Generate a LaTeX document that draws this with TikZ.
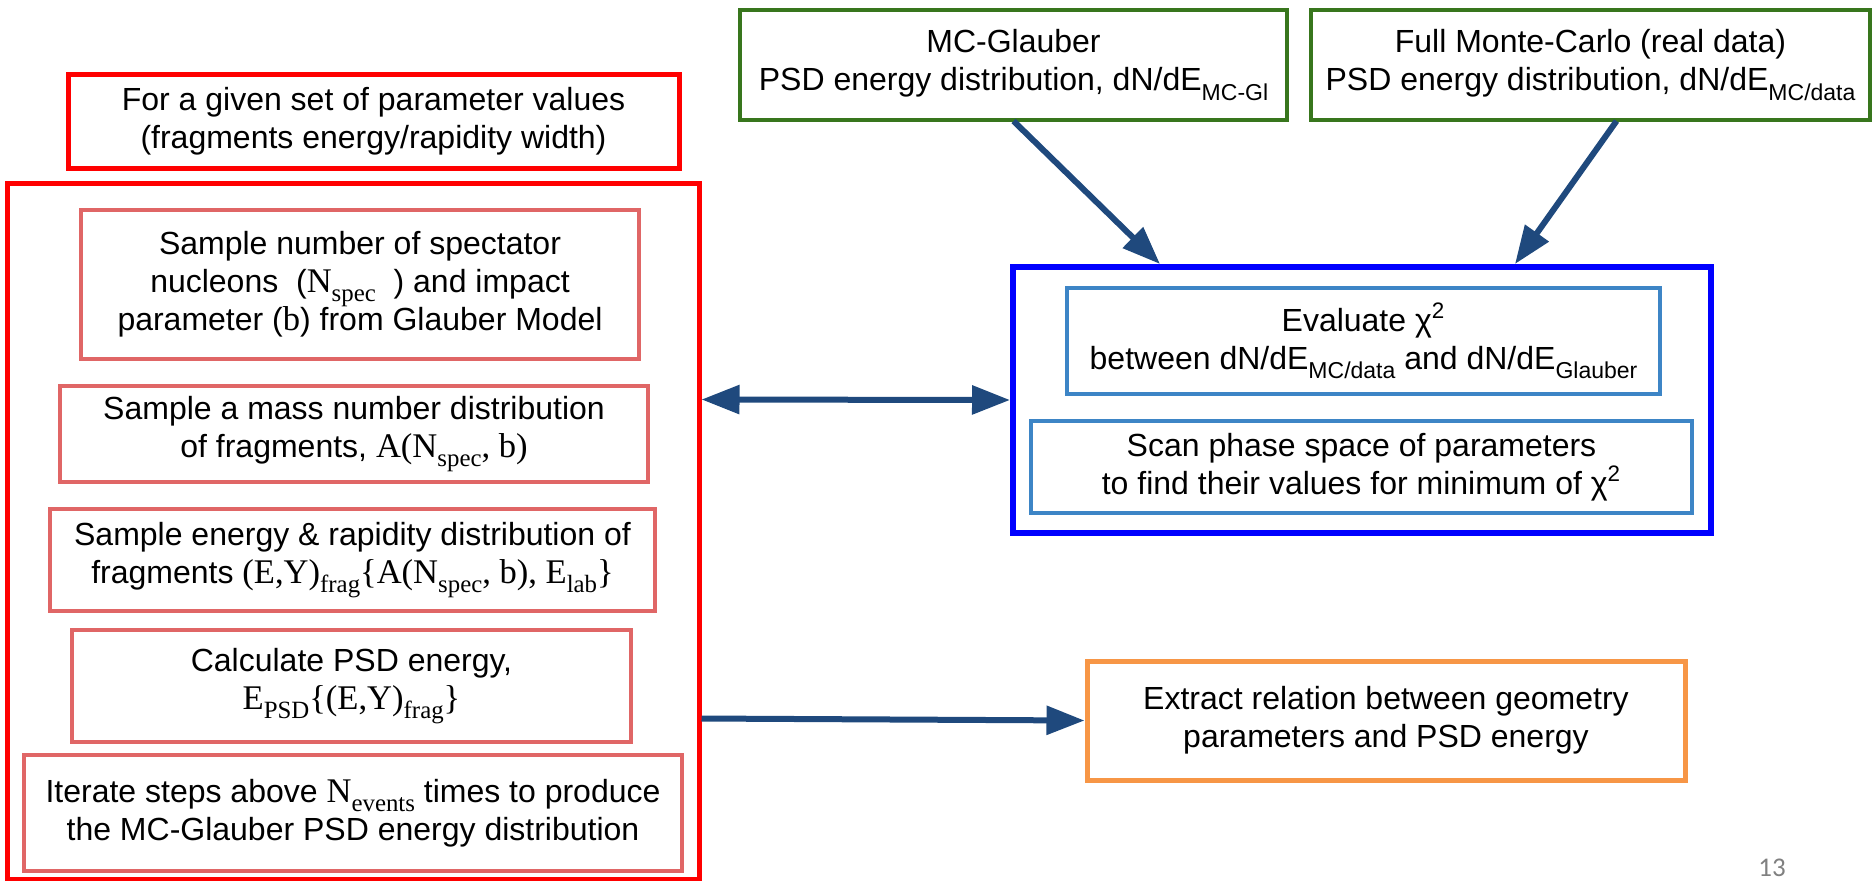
\documentclass[tikz,border=0pt]{standalone}
\usepackage{fontspec}
\setmainfont{Liberation Sans}
\newfontfamily\tnr[Scale=1.08]{Liberation Serif}
\newfontfamily\carl{Carlito}
\usetikzlibrary{arrows.meta,calc}
\definecolor{cred}{HTML}{FF0000}
\definecolor{csalmon}{HTML}{E06666}
\definecolor{cgreen}{HTML}{38761D}
\definecolor{cblue}{HTML}{0000FF}
\definecolor{clblue}{HTML}{3D85C6}
\definecolor{corange}{HTML}{F79646}
\definecolor{cnavy}{HTML}{1F497D}
\newcommand\sbs[1]{\raisebox{-0.55ex}{\fontsize{11.5}{12}\selectfont #1}}
\begin{document}
\begin{tikzpicture}[x=0.5pt,y=-0.5pt,
  bx/.style={draw,inner sep=0pt,align=center,font=\fontsize{16}{19}\selectfont},
  redbox/.style={bx,cred,line width=2.5pt,text=black},
  salbox/.style={bx,csalmon,line width=2pt,text=black},
  grbox/.style={bx,cgreen,line width=2pt,text=black},
  bbox/.style={bx,cblue,line width=3pt},
  lbbox/.style={bx,clblue,line width=2pt,text=black},
  orbox/.style={bx,corange,line width=2.5pt,text=black},
  conn/.style={cnavy,line width=3pt,-{Triangle[length=19pt,width=14pt]}},
  dconn/.style={cnavy,line width=3pt,{Triangle[length=19pt,width=14pt]}-{Triangle[length=19pt,width=14pt]}}]
\useasboundingbox (0,0) rectangle (1874,880);
% left column
\node[redbox,minimum width=305.5pt,minimum height=47pt] (top) at (373.5,121)
  {For a given set of parameter values\\(fragments energy/rapidity width)};
\node[redbox,minimum width=346pt,minimum height=348pt] (big) at (353,531) {};
\node[salbox,minimum width=279pt,minimum height=74.5pt] (s1) at (360,284.5)
  {Sample number of spectator\\nucleons~ ({\tnr N\sbs{spec}}~ ) and impact\\parameter ({\tnr b}) from Glauber Model};
\node[salbox,minimum width=294pt,minimum height=48pt] (s2) at (354,434)
  {Sample a mass number distribution\\of fragments, {\tnr A(N\sbs{spec}, b)}};
\node[salbox,minimum width=302.5pt,minimum height=51pt] (s3) at (352.5,560)
  {Sample energy \& rapidity distribution of\\fragments {\tnr (E,Y)\sbs{frag}\{A(N\sbs{spec}, b), E\sbs{lab}\}}};
\node[salbox,minimum width=279.5pt,minimum height=56pt] (s4) at (351.5,686)
  {Calculate PSD energy,\\{\tnr E\sbs{PSD}\{(E,Y)\sbs{frag}\}}};
\node[salbox,minimum width=329pt,minimum height=58pt] (s5) at (353,813)
  {Iterate steps above {\tnr N\sbs{events}} times to produce\\the MC-Glauber PSD energy distribution};
% top right
\node[grbox,minimum width=273.5pt,minimum height=55pt] (g1) at (1013.5,65)
  {MC-Glauber\\PSD energy distribution, dN/dE\sbs{MC-Gl}};
\node[grbox,minimum width=279.5pt,minimum height=55pt] (g2) at (1590.5,65)
  {Full Monte-Carlo (real data)\\PSD energy distribution, dN/dE\sbs{MC/data}};
% blue block
\node[bbox,minimum width=349pt,minimum height=133pt] (blue) at (1362,400) {};
\node[lbbox,minimum width=296.5pt,minimum height=53pt] (e1) at (1363.5,341)
  {Evaluate χ\textsuperscript{2}\\between dN/dE\sbs{MC/data} and dN/dE\sbs{Glauber}};
\node[lbbox,minimum width=330.5pt,minimum height=46pt] (e2) at (1361.5,467)
  {Scan phase space of parameters\\to find their values for minimum of χ\textsuperscript{2}};
% orange
\node[orbox,minimum width=299pt,minimum height=59.5pt] (ex) at (1386,720.5)
  {Extract relation between geometry\\parameters and PSD energy};
% page number
\node[font=\carl\fontsize{13.5}{16}\selectfont,text=black!50,inner sep=0pt] (pn) at (1772,868) {13};
% connectors
\coordinate (g1s) at ($(g1.south)+(0,-1)$);
\coordinate (g2s) at ($(g2.south)+(26,-1)$);
\coordinate (bt1) at ($(blue.north west)+(150,0)$);
\coordinate (bt2) at ($(blue.north west)+(505,0)$);
\coordinate (bigA) at ($(big.north east)+(0,219)$);
\coordinate (bigB) at ($(big.north east)+(0,538)$);
\draw[conn] (g1s) -- (bt1);
\draw[conn] (g2s) -- (bt2);
\draw[dconn] (bigA) -- (blue.west);
\draw[conn] (bigB) -- (ex.west);
\end{tikzpicture}
\end{document}
